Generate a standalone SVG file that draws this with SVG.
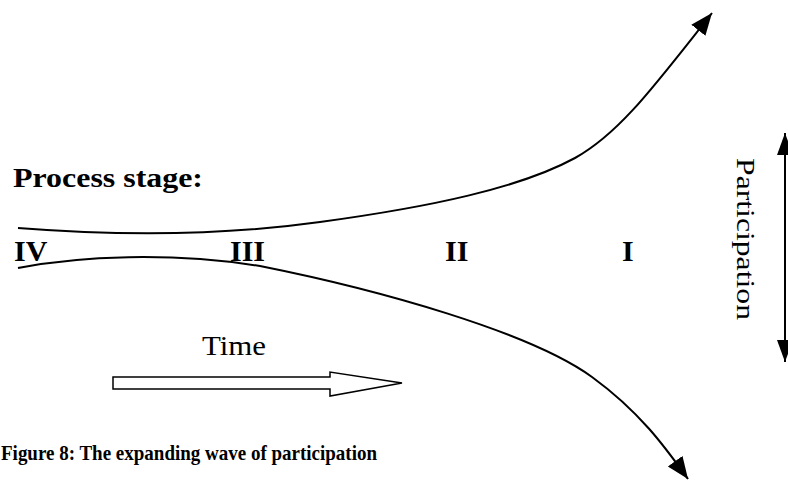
<svg xmlns="http://www.w3.org/2000/svg" width="788" height="481" viewBox="0 0 788 481">
<style>
.t{font-family:"Liberation Serif","Times New Roman",serif;fill:#000}
.b{font-weight:bold}
.c{fill:none;stroke:#000;stroke-width:2}
</style>
<defs>
<marker id="ah" markerUnits="userSpaceOnUse" markerWidth="24" markerHeight="20" refX="22" refY="9" orient="auto">
<path d="M0,0 L22,9 L0,18 z" fill="#000"/>
</marker>
<marker id="ahs" markerUnits="userSpaceOnUse" markerWidth="24" markerHeight="20" refX="22" refY="8" orient="auto-start-reverse">
<path d="M0,0 L22,8 L0,16 z" fill="#000"/>
</marker>
</defs>
<rect width="788" height="481" fill="#fff"/>
<g id="connectors">
<path class="c" d="M18,228 C120,236 220,236 320,222 C430,207 520,188 575,158 C620,133 655,85 712,13" marker-end="url(#ah)"/>
<path class="c" d="M18,268 C80,256 170,252 260,266 C380,290 530,332 592,377 C640,412 665,447 688,479" marker-end="url(#ah)"/>
<line class="c" x1="785" y1="133" x2="785" y2="362" marker-start="url(#ahs)" marker-end="url(#ahs)"/>
</g>
<g id="process-stage"><text class="t b" x="13" y="187" font-size="28" textLength="190" lengthAdjust="spacingAndGlyphs">Process stage:</text></g>
<g id="stage-IV"><text class="t b" x="14" y="261" font-size="30">IV</text></g>
<g id="stage-III"><text class="t b" x="230" y="261" font-size="30">III</text></g>
<g id="stage-II"><text class="t b" x="445" y="261" font-size="30">II</text></g>
<g id="stage-I"><text class="t b" x="622" y="261" font-size="30">I</text></g>
<g id="time"><text class="t" x="202" y="355" font-size="27" textLength="64" lengthAdjust="spacingAndGlyphs">Time</text>
<path d="M113,377 L330,377 L330,372 L402,383 L330,396 L330,389 L113,389 z" fill="#fff" stroke="#000" stroke-width="1.5"/></g>
<g id="participation"><text class="t" transform="translate(737,158) rotate(90)" font-size="26" textLength="162" lengthAdjust="spacingAndGlyphs">Participation</text></g>
<g id="caption"><text class="t b" x="1" y="460" font-size="21" textLength="376" lengthAdjust="spacingAndGlyphs">Figure 8: The expanding wave of participation</text></g>
</svg>
